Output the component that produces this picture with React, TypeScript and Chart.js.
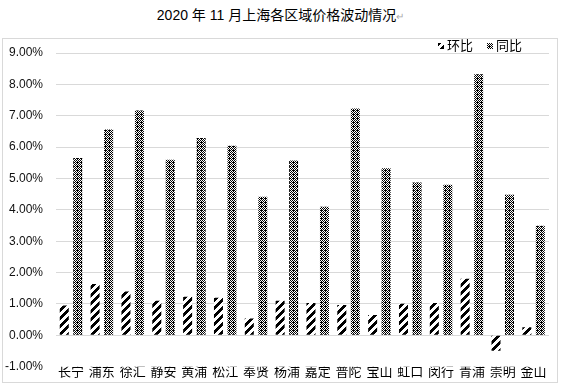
import React, { useEffect, useRef } from "react";
import { Chart, registerables } from "chart.js";

Chart.register(...registerables);

const categories = ["长宁", "浦东", "徐汇", "静安", "黄浦", "松江", "奉贤", "杨浦", "嘉定", "普陀", "宝山", "虹口", "闵行", "青浦", "崇明", "金山"];
const huanbi = [0.95, 1.64, 1.4, 1.1, 1.23, 1.2, 0.54, 1.1, 1.03, 0.97, 0.65, 1.01, 1.03, 1.8, -0.49, 0.26];
const tongbi = [5.65, 6.56, 7.17, 5.6, 6.29, 6.04, 4.42, 5.57, 4.1, 7.23, 5.33, 4.87, 4.8, 8.32, 4.48, 3.49];
const seriesNames = ["环比", "同比"];
const yMin = -1;
const yMax = 9;
const yStep = 1;

const FONT = '"Liberation Sans", "Noto Sans CJK SC", sans-serif';

function makeTile(size: number, on: (x: number, y: number) => boolean, fallback: string): CanvasPattern | string {
  const c = document.createElement("canvas");
  c.width = size;
  c.height = size;
  const g = c.getContext("2d");
  if (!g) return fallback;
  const img = g.createImageData(size, size);
  for (let y = 0; y < size; y++) {
    for (let x = 0; x < size; x++) {
      const i = (y * size + x) * 4;
      const v = on(x, y) ? 0 : 255;
      img.data[i] = v;
      img.data[i + 1] = v;
      img.data[i + 2] = v;
      img.data[i + 3] = 255;
    }
  }
  g.putImageData(img, 0, 0);
  return g.createPattern(c, "repeat") || fallback;
}

export default function App() {
  const ref = useRef<HTMLCanvasElement | null>(null);

  useEffect(() => {
    if (!ref.current) return;
    const stripe = makeTile(8, (x, y) => (x + y) % 8 < 4, "#000");
    const checker = makeTile(4, (x, y) => (x + y) % 2 === 0 || (x === 1 && y === 2), "#666");

    const legendPlugin = {
      id: "customLegend",
      afterDraw(chart: any) {
        const ctx = chart.ctx;
        ctx.save();
        const items = [
          { fill: stripe, x: 438, label: seriesNames[0] },
          { fill: checker, x: 487, label: seriesNames[1] },
        ];
        ctx.font = `13px ${FONT}`;
        ctx.textBaseline = "middle";
        ctx.textAlign = "left";
        for (const it of items) {
          ctx.fillStyle = it.fill;
          ctx.fillRect(it.x, 43, 6, 6);
          ctx.fillStyle = "#000";
          ctx.fillText(it.label, it.x + 9, 46.5);
        }
        ctx.restore();
      },
    };

    const chart = new Chart(ref.current, {
      type: "bar",
      data: {
        labels: categories,
        datasets: [
          {
            label: seriesNames[0],
            data: huanbi,
            backgroundColor: stripe as any,
            borderWidth: 0,
            categoryPercentage: 0.875,
            barPercentage: 0.667,
          },
          {
            label: seriesNames[1],
            data: tongbi,
            backgroundColor: checker as any,
            borderWidth: 0,
            categoryPercentage: 0.875,
            barPercentage: 0.667,
          },
        ],
      },
      options: {
        animation: false,
        responsive: false,
        maintainAspectRatio: false,
        layout: { padding: { top: 53, right: 12, bottom: 0, left: 0 } },
        plugins: {
          legend: { display: false },
          title: { display: false },
          tooltip: { enabled: false },
        },
        scales: {
          x: {
            grid: { display: false },
            border: { display: false },
            ticks: {
              color: "#000",
              font: { family: FONT, size: 13 },
              padding: -10,
              maxRotation: 0,
              autoSkip: false,
            },
            afterFit: (s: any) => {
              s.height = 20.3;
            },
          },
          y: {
            min: yMin,
            max: yMax,
            grid: {
              color: (c: any) => (c.tick && c.tick.value === yMin ? "rgba(0,0,0,0)" : "#d9d9d9"),
              lineWidth: 1,
              drawTicks: false,
            },
            border: { display: false },
            ticks: {
              stepSize: yStep,
              color: "#111",
              font: { family: FONT, size: 12 },
              padding: 12.6,
              callback: (v: any) => Number(v).toFixed(2) + "%",
            },
            afterFit: (s: any) => {
              s.width = 55.6;
            },
          },
        },
      },
      plugins: [legendPlugin],
    });
    return () => chart.destroy();
  }, []);

  return (
    <div style={{ position: "absolute", left: 0, top: 0, width: 561, height: 387, background: "#fff" }}>
      <div
        style={{
          position: "absolute",
          left: 0,
          top: 5,
          width: 561,
          textAlign: "center",
          fontFamily: FONT,
          fontSize: 14,
          lineHeight: "20px",
          color: "#000",
          whiteSpace: "nowrap",
        }}
      >
        2020 年 11 月上海各区域价格波动情况<span style={{ color: "#aaa", fontSize: 10 }}>↵</span>
      </div>
      <div
        style={{
          position: "absolute",
          left: 2,
          top: 38,
          width: 554,
          height: 343,
          border: "1px solid #d9d9d9",
          pointerEvents: "none",
        }}
      />
      <canvas ref={ref} width={561} height={387} style={{ position: "absolute", left: 0, top: 0, width: 561, height: 387 }} />
    </div>
  );
}
